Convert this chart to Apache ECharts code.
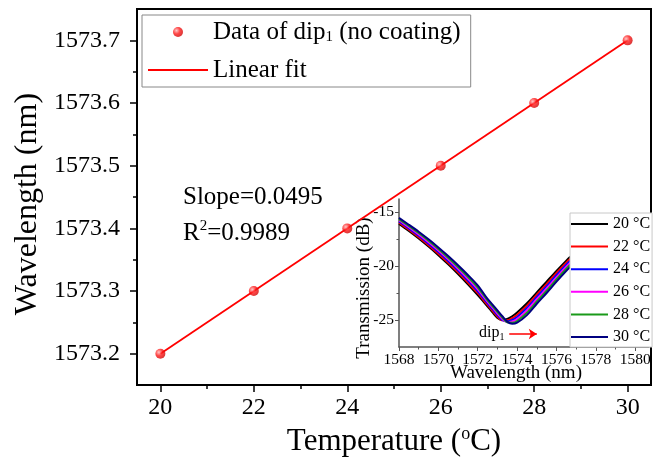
<!DOCTYPE html>
<html>
<head>
<meta charset="utf-8">
<script src="https://cdn.jsdelivr.net/npm/echarts@6/dist/echarts.min.js"></script>
<style>
  html, body { margin: 0; padding: 0; background: #fff; }
  #chart { width: 660px; height: 464px; }
</style>
</head>
<body>
<div id="chart"></div>
<script>
// main plot: dip wavelength vs temperature
var temps = [20, 22, 24, 26, 28, 30];
var dipWl = [1573.2, 1573.3, 1573.4, 1573.5, 1573.6, 1573.7];
var fitT = [20, 30];
var fitWl = [1573.2, 1573.7];

var xMajor = [20, 22, 24, 26, 28, 30];
var xMinor = [21, 23, 25, 27, 29];
var yMajor = [1573.2, 1573.3, 1573.4, 1573.5, 1573.6, 1573.7];
var yMinor = [1573.25, 1573.35, 1573.45, 1573.55, 1573.65];

// inset: transmission spectra
var specWl = [1568, 1568.5, 1569, 1569.5, 1570, 1570.5, 1571, 1571.5, 1572, 1572.5,
              1572.75, 1573, 1573.25, 1573.5, 1573.75, 1574, 1574.5, 1575, 1575.5,
              1576, 1576.5, 1576.7];
var spec20 = [-16.10, -16.75, -17.45, -18.20, -19.00, -19.85, -20.75, -21.70, -22.70, -23.75,
              -24.30, -24.80, -25.00, -24.90, -24.65, -24.30, -23.45, -22.45, -21.45,
              -20.45, -19.50, -19.15];
var spec22 = [-15.99, -16.64, -17.33, -18.07, -18.86, -19.70, -20.59, -21.53, -22.52, -23.61,
              -24.15, -24.67, -25.03, -25.03, -24.83, -24.52, -23.67, -22.66, -21.66,
              -20.65, -19.69, -19.34];
var spec24 = [-15.88, -16.52, -17.20, -17.93, -18.71, -19.54, -20.42, -21.35, -22.34, -23.47,
              -24.00, -24.54, -25.01, -25.13, -25.00, -24.72, -23.89, -22.87, -21.87,
              -20.85, -19.88, -19.52];
var spec26 = [-15.77, -16.41, -17.08, -17.80, -18.57, -19.39, -20.26, -21.18, -22.16, -23.33,
              -23.85, -24.40, -24.91, -25.20, -25.14, -24.92, -24.11, -23.08, -22.08,
              -21.05, -20.07, -19.71];
var spec28 = [-15.66, -16.29, -16.95, -17.66, -18.42, -19.23, -20.09, -21.00, -21.98, -23.19,
              -23.71, -24.25, -24.78, -25.21, -25.26, -25.09, -24.33, -23.29, -22.29,
              -21.25, -20.26, -19.89];
var spec30 = [-15.55, -16.18, -16.83, -17.53, -18.28, -19.08, -19.93, -20.83, -21.80, -23.05,
              -23.57, -24.10, -24.65, -25.15, -25.35, -25.25, -24.55, -23.50, -22.50,
              -21.45, -20.45, -20.08];
var specNames = ['20 °C', '22 °C', '24 °C', '26 °C', '28 °C', '30 °C'];
var specColors = ['#000000', '#ff0000', '#0000ff', '#ff00ff', '#1a9a1a', '#000080'];
var specData = [spec20, spec22, spec24, spec26, spec28, spec30];

var ixMajor = [1568, 1570, 1572, 1574, 1576, 1578, 1580];
var ixMinor = [1569, 1571, 1573, 1575, 1577, 1579];
var iyMajor = [-25, -20, -15];
var iyMinor = [-22.5, -17.5];

var serif = 'Liberation Serif';
var chart = echarts.init(document.getElementById('chart'));

function pairs(xs, ys) {
    return xs.map((x, i) => [x, ys[i]]);
}

function tickAxis(grid, pos, min, max, ticks, len, color, width) {
    // extra axis used only for minor ticks
    return {
        type: 'value', gridIndex: grid, position: pos, min: min, max: max,
        axisLine: { show: false }, splitLine: { show: false },
        axisLabel: { show: false },
        axisTick: { show: true, customValues: ticks, length: len, lineStyle: { color: color, width: width } }
    };
}

var insetSeries = specData.map((d, i) => ({
    name: specNames[i], type: 'line', xAxisIndex: 2, yAxisIndex: 2,
    data: pairs(specWl, d), symbol: 'none', smooth: 0.3,
    lineStyle: { color: specColors[i], width: 2 }, itemStyle: { color: specColors[i] }
}));
// red arrow next to dip label
insetSeries[0].markLine = {
    silent: true, symbol: ['none', 'arrow'], symbolSize: 8, label: { show: false },
    lineStyle: { color: '#ff0000', width: 1.5, type: 'solid' },
    data: [[{ coord: [1573.6, -26.3] }, { coord: [1575.0, -26.3] }]]
};

var option = {
    animation: false,
    backgroundColor: '#fff',
    grid: [
        { left: 137, top: 9, right: 9, bottom: 77, show: true, borderColor: '#000', borderWidth: 2 },
        { left: 399, top: 199, width: 250, height: 148 }
    ],
    xAxis: [
        {
            type: 'value', gridIndex: 0, min: 19.5, max: 30.5,
            name: 'Temperature ({sup|o}C)', nameLocation: 'middle', nameGap: 35,
            nameTextStyle: {
                fontFamily: serif, fontSize: 31, color: '#000', lineHeight: 34,
                rich: { sup: { fontFamily: serif, fontSize: 18, lineHeight: 18, verticalAlign: 'top', color: '#000' } }
            },
            axisLine: { lineStyle: { color: '#000', width: 2 } },
            axisTick: { customValues: xMajor, length: 7, lineStyle: { color: '#000', width: 1.5 } },
            axisLabel: { customValues: xMajor, fontFamily: serif, fontSize: 24, color: '#000', margin: 11 },
            splitLine: { show: false }
        },
        tickAxis(0, 'bottom', 19.5, 30.5, xMinor, 4, '#000', 1.5),
        {
            type: 'value', gridIndex: 1, min: 1568, max: 1580.7,
            name: 'Wavelength (nm)', nameLocation: 'middle', nameGap: 17, nameMoveOverlap: false,
            nameTextStyle: { fontFamily: serif, fontSize: 19, color: '#000', padding: [0, 16, 0, 0] },
            axisLine: { lineStyle: { color: '#555', width: 1.5 } },
            axisTick: { customValues: ixMajor, length: 4, lineStyle: { color: '#555', width: 1 } },
            axisLabel: { customValues: ixMajor, fontFamily: serif, fontSize: 15.5, color: '#000', margin: 5,
                         formatter: (v) => String(v) },
            splitLine: { show: false }
        },
        tickAxis(1, 'bottom', 1568, 1580.7, ixMinor, 2.5, '#555', 1)
    ],
    yAxis: [
        {
            type: 'value', gridIndex: 0, position: 'left', min: 1573.15, max: 1573.75,
            name: 'Wavelength (nm)', nameLocation: 'middle', nameGap: 93,
            nameTextStyle: { fontFamily: serif, fontSize: 32, color: '#000', padding: [0, 14, 0, 0] },
            axisLine: { lineStyle: { color: '#000', width: 2 } },
            axisTick: { customValues: yMajor, length: 7, lineStyle: { color: '#000', width: 1.5 } },
            axisLabel: { customValues: yMajor, fontFamily: serif, fontSize: 24, color: '#000', margin: 17,
                         formatter: (v) => v.toFixed(1) },
            splitLine: { show: false }
        },
        tickAxis(0, 'left', 1573.15, 1573.75, yMinor, 4, '#000', 1.5),
        {
            type: 'value', gridIndex: 1, position: 'left', min: -27.5, max: -13.8,
            name: 'Transmission (dB)', nameLocation: 'middle', nameGap: 25, nameMoveOverlap: false,
            nameTextStyle: { fontFamily: serif, fontSize: 19, color: '#000', padding: [0, 30, 0, 0] },
            axisLine: { lineStyle: { color: '#555', width: 1.5 } },
            axisTick: { customValues: iyMajor, length: 4, lineStyle: { color: '#555', width: 1 } },
            axisLabel: { customValues: iyMajor, fontFamily: serif, fontSize: 15.5, color: '#000', margin: 5 },
            splitLine: { show: false }
        },
        tickAxis(1, 'left', -27.5, -13.8, iyMinor, 2.5, '#555', 1)
    ],
    legend: [
        {
            data: ['Data of dip1 (no coating)', { name: 'Linear fit', itemStyle: { opacity: 0 } }],
            orient: 'vertical', left: 142, top: 15, selectedMode: false,
            itemWidth: 60, itemHeight: 10, itemGap: 12, padding: [4, 10, 4, 5],
            borderColor: '#888', borderWidth: 1, backgroundColor: '#fff',
            formatter: (name) => name.replace('dip1', 'dip{sub|1}'),
            textStyle: {
                fontFamily: serif, fontSize: 25, color: '#000', lineHeight: 26,
                rich: { sub: { fontFamily: serif, fontSize: 15, lineHeight: 14, verticalAlign: 'bottom', color: '#000' } }
            }
        },
        {
            data: specNames,
            orient: 'vertical', left: 570, top: 213, selectedMode: false,
            itemWidth: 37, itemHeight: 10, itemGap: 6.6, padding: [3, 2, 2, 0],
            itemStyle: { opacity: 0 },
            borderColor: '#c8c8c8', borderWidth: 1, backgroundColor: '#fff',
            textStyle: { fontFamily: serif, fontSize: 16, color: '#000', lineHeight: 16 }
        }
    ],
    graphic: [
        { type: 'text', x: 183, y: 197,
          style: { text: 'Slope=0.0495', fontFamily: serif, fontSize: 25, fill: '#000', verticalAlign: 'middle' } },
        { type: 'text', x: 183, y: 233,
          style: { text: 'R{sup|2}=0.9989', fontFamily: serif, fontSize: 25, lineHeight: 28, fill: '#000', verticalAlign: 'middle',
                   rich: { sup: { fontFamily: serif, fontSize: 15, lineHeight: 14, verticalAlign: 'top', fill: '#000' } } } },
        { type: 'text', x: 479, y: 333, z: 10,
          style: { text: 'dip{sub|1}', fontFamily: serif, fontSize: 16, lineHeight: 18, fill: '#000', verticalAlign: 'middle',
                   rich: { sub: { fontFamily: serif, fontSize: 10, lineHeight: 10, verticalAlign: 'bottom', fill: '#000' } } } }
    ],
    series: [
        {
            name: 'Linear fit', type: 'line', xAxisIndex: 0, yAxisIndex: 0,
            data: pairs(fitT, fitWl), symbol: 'none', z: 2,
            lineStyle: { color: '#ff0000', width: 1.8 }, itemStyle: { color: '#ff0000' }
        },
        {
            name: 'Data of dip1 (no coating)', type: 'scatter', xAxisIndex: 0, yAxisIndex: 0,
            data: pairs(temps, dipWl), symbol: 'circle', symbolSize: 10, z: 3,
            itemStyle: {
                color: {
                    type: 'radial', x: 0.35, y: 0.35, r: 0.75,
                    colorStops: [
                        { offset: 0, color: '#ffb8b8' },
                        { offset: 0.45, color: '#ff1a1a' },
                        { offset: 1, color: '#c80000' }
                    ]
                }
            }
        }
    ].concat(insetSeries)
};

chart.setOption(option);
</script>
</body>
</html>
